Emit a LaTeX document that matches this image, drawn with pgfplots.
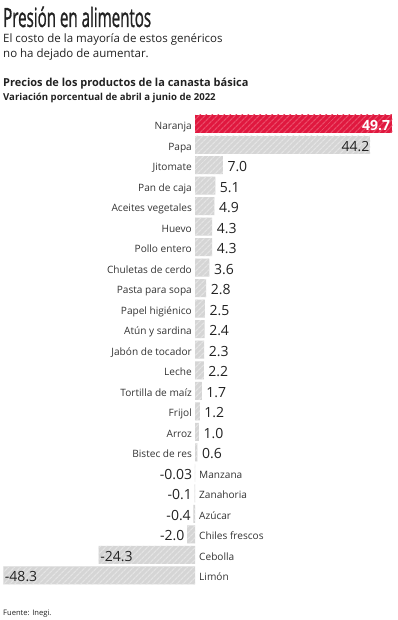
\documentclass[border=0pt]{standalone}
\usepackage{fontspec}
\setmainfont{Open Sans}
\usepackage{graphicx}
\usepackage{pgfplots}
\pgfplotsset{compat=1.18}
\usepackage{pgfplotstable}
\usetikzlibrary{patterns.meta}
\definecolor{redbar}{HTML}{E0183F}
\definecolor{redstripe}{HTML}{EA4B68}
\definecolor{graybar}{HTML}{D5D5D5}
\definecolor{graystripe}{HTML}{E4E4E4}
\definecolor{txt}{HTML}{222222}
\definecolor{cat}{HTML}{333333}

\pgfplotstableread[col sep=comma]{
y,x,lab,name
0,49.7,49.7,Naranja
}\tRed
\pgfplotstableread[col sep=comma]{
y,x,lab,name
1,44.2,44.2,Papa
}\tPosIn
\pgfplotstableread[col sep=comma]{
y,x,lab,name
2,7.0,7.0,Jitomate
3,5.1,5.1,Pan de caja
4,4.9,4.9,Aceites vegetales
5,4.3,4.3,Huevo
6,4.3,4.3,Pollo entero
7,3.6,3.6,Chuletas de cerdo
8,2.8,2.8,Pasta para sopa
9,2.5,2.5,Papel higiénico
10,2.4,2.4,Atún y sardina
11,2.3,2.3,Jabón de tocador
12,2.2,2.2,Leche
13,1.7,1.7,Tortilla de maíz
14,1.2,1.2,Frijol
15,1.0,1.0,Arroz
16,0.6,0.6,Bistec de res
}\tPosOut
\pgfplotstableread[col sep=comma]{
y,x,lab,name
17,-0.03,-0.03,Manzana
18,-0.1,-0.1,Zanahoria
19,-0.4,-0.4,Azúcar
20,-2.0,-2.0,Chiles frescos
}\tNegOut
\pgfplotstableread[col sep=comma]{
y,x,lab,name
21,-24.3,-24.3,Cebolla
22,-48.3,-48.3,Limón
}\tNegIn

\pgfplotsset{
  graybarstyle/.style={xbar, bar shift=0pt, fill=graybar, draw=none,
    postaction={pattern={Lines[angle=45,distance=4pt,line width=1.3pt]}, pattern color=graystripe}},
  valstyle/.style={nodes near coords, point meta=explicit symbolic,
    every node near coord/.style={inner sep=0pt, font=\fontsize{14}{14}\selectfont, text=txt, fill=none, draw=none, #1}},
  namestyle/.style={draw=none, mark=none, forget plot, nodes near coords, point meta=explicit symbolic,
    every node near coord/.style={inner sep=0pt, font=\fontsize{10.1}{11}\selectfont, text=cat, fill=none, draw=none, #1}},
}

\begin{document}
\begin{tikzpicture}[x=1pt,y=1pt]
\useasboundingbox (0,0) rectangle (397,620);
\node[anchor=base west, inner sep=0pt, text=txt] at (3,593) {\scalebox{0.57}[1]{\fontsize{26.5}{26}\selectfont\addfontfeatures{FakeBold=1.4}Presión en alimentos}};
\node[anchor=base west, inner sep=0pt, text=txt] at (3,577) {\fontsize{11.5}{12}\selectfont El costo de la mayoría de estos genéricos};
\node[anchor=base west, inner sep=0pt, text=txt] at (3,562) {\fontsize{11.5}{12}\selectfont no ha dejado de aumentar.};
\node[anchor=base west, inner sep=0pt, text=txt] at (3,533) {\fontsize{11}{12}\selectfont\bfseries Precios de los productos de la canasta básica};
\node[anchor=base west, inner sep=0pt, text=txt] at (3,519) {\fontsize{9.6}{10}\selectfont\bfseries Variación porcentual de abril a junio de 2022};
\node[anchor=base west, inner sep=0pt, text=txt] at (3,5) {\fontsize{7.6}{8}\selectfont Fuente: Inegi.};
\begin{axis}[
  at={(0.5pt,506.26pt)}, anchor=north west,
  scale only axis, width=395pt, height=472pt,
  xmin=-49, xmax=50.5, ymin=-0.5, ymax=22.5, y dir=reverse,
  axis lines=none, clip=false,
  bar width=18pt,
]
% bars with value labels
\addplot[xbar, bar shift=0pt, fill=redbar, draw=none,
  postaction={pattern={Lines[angle=45,distance=4pt,line width=1.3pt]}, pattern color=redstripe},
  valstyle={anchor=base east, xshift=-2pt, yshift=-6.5pt, text=white, font=\fontsize{14}{14}\selectfont\bfseries}]
  table[x=x, y=y, meta=lab]{\tRed};
\addplot[graybarstyle, valstyle={anchor=base east, xshift=-1pt, yshift=-6.5pt}]
  table[x=x, y=y, meta=lab]{\tPosIn};
\addplot[graybarstyle, valstyle={anchor=base west, xshift=4.5pt, yshift=-6.5pt}]
  table[x=x, y=y, meta=lab]{\tPosOut};
\addplot[graybarstyle, valstyle={anchor=base east, xshift=-2.5pt, yshift=-6.5pt}]
  table[x=x, y=y, meta=lab]{\tNegOut};
\addplot[graybarstyle, valstyle={anchor=base west, xshift=1.5pt, yshift=-6.5pt}]
  table[x=x, y=y, meta=lab]{\tNegIn};
% category names
\addplot[namestyle={anchor=base east, xshift=-3pt, yshift=-5.5pt}] table[x expr=0, y=y, meta=name]{\tRed};
\addplot[namestyle={anchor=base east, xshift=-3pt, yshift=-5.5pt}] table[x expr=0, y=y, meta=name]{\tPosIn};
\addplot[namestyle={anchor=base east, xshift=-3pt, yshift=-5.5pt}] table[x expr=0, y=y, meta=name]{\tPosOut};
\addplot[namestyle={anchor=base west, xshift=4pt, yshift=-5.5pt}] table[x expr=0, y=y, meta=name]{\tNegOut};
\addplot[namestyle={anchor=base west, xshift=4pt, yshift=-5.5pt}] table[x expr=0, y=y, meta=name]{\tNegIn};
\end{axis}
\end{tikzpicture}
\end{document}
